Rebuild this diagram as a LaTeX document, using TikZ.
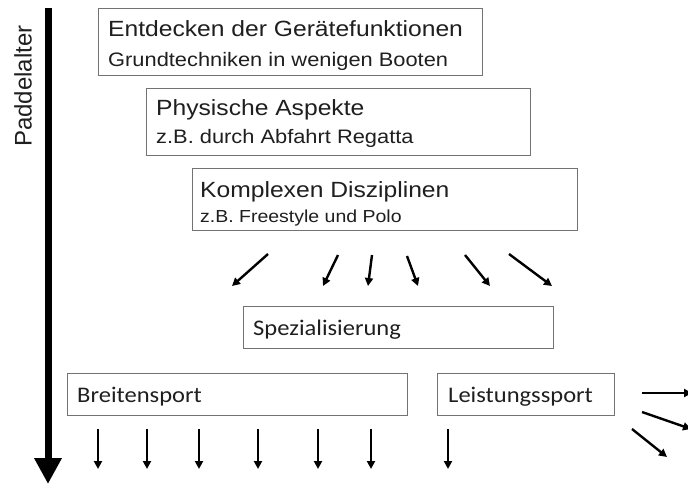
\documentclass[tikz,border=0pt]{standalone}
\usepackage{fontspec}
\usetikzlibrary{arrows.meta}
\newfontfamily\arx[FakeStretch=1.12]{Liberation Sans}
\newfontfamily\arn{Liberation Sans}
\newfontfamily\cbx[FakeStretch=1.1]{Carlito}
\begin{document}
\begin{tikzpicture}[x=1pt,y=-1pt,
  stage/.style={draw=black!55, line width=1.4pt, inner sep=0pt, anchor=north west},
  lbl/.style={anchor=base west, inner sep=0pt, text=black!88},
  big/.style={font=\arx\fontsize{22}{26}\selectfont},
  small/.style={font=\arx\fontsize{19.5}{23}\selectfont},
  tiny/.style={font=\arx\fontsize{17.4}{21}\selectfont},
  cal/.style={font=\cbx\fontsize{22.3}{26}\selectfont},
  arr/.style={line width=2.4pt, -{Triangle[length=8pt,width=8pt]}},
]
\useasboundingbox (0,0) rectangle (688,485);
\fill[white] (0,0) rectangle (688,485);

% time axis
\coordinate (axtop) at (48,8);
\coordinate (axbot) at (48,484);
\draw[line width=7pt, -{Triangle[length=26pt,width=26pt]}] (axtop) -- (axbot);
\node[rotate=90, anchor=center, inner sep=0pt, text=black!88, font=\arn\fontsize{24}{28}\selectfont] (axlbl) at (23,86) {Paddelalter};

% stage boxes
\node[stage, minimum width=384pt, minimum height=67pt] (b1) at (98,8) {};
\node[lbl, big] (b1a) at (108,36) {Entdecken der Gerätefunktionen};
\node[lbl, small] (b1b) at (108,66) {Grundtechniken in wenigen Booten};

\node[stage, minimum width=384pt, minimum height=67pt] (b2) at (146,88) {};
\node[lbl, big] (b2a) at (156,115) {Physische Aspekte};
\node[lbl, small] (b2b) at (156,143) {z.B. durch Abfahrt Regatta};

\node[stage, minimum width=385pt, minimum height=62pt] (b3) at (192,168) {};
\node[lbl, big] (b3a) at (200,197) {Komplexen Disziplinen};
\node[lbl, tiny] (b3b) at (200,222) {z.B. Freestyle und Polo};

\node[stage, minimum width=310pt, minimum height=42pt] (sp) at (243,306) {};
\node[lbl, cal] (spt) at (253,335) {Spezialisierung};

\node[stage, minimum width=340pt, minimum height=42pt] (br) at (67,373) {};
\node[lbl, cal] (brt) at (77,402) {Breitensport};

\node[stage, minimum width=177pt, minimum height=42pt] (le) at (437,373) {};
\node[lbl, cal] (let) at (448,402) {Leistungssport};

% fan of arrows towards specialisation
\foreach \i/\sx/\sy/\ex/\ey in {1/268/254/232/286, 2/338/255/323/286, 3/372/255/368/286,
  4/407/256/418/286, 5/465/255/490/286, 6/509/254/552/286}{
  \coordinate (fs\i) at (\sx,\sy);
  \coordinate (fe\i) at (\ex,\ey);
  \draw[arr] (fs\i) -- (fe\i);
}

% arrows below Breitensport / Leistungssport
\foreach \i/\xx in {1/98, 2/147, 3/199, 4/258, 5/318, 6/371, 7/448}{
  \coordinate (ds\i) at (\xx,429);
  \coordinate (de\i) at (\xx,469);
  \draw[arr] (ds\i) -- (de\i);
}

% arrows right of Leistungssport
\coordinate (rs1) at (642,393); \coordinate (re1) at (692,393);
\coordinate (rs2) at (642,412); \coordinate (re2) at (691,429);
\coordinate (rs3) at (632,429); \coordinate (re3) at (667,457);
\draw[arr] (rs1) -- (re1);
\draw[arr] (rs2) -- (re2);
\draw[arr] (rs3) -- (re3);
\end{tikzpicture}
\end{document}
